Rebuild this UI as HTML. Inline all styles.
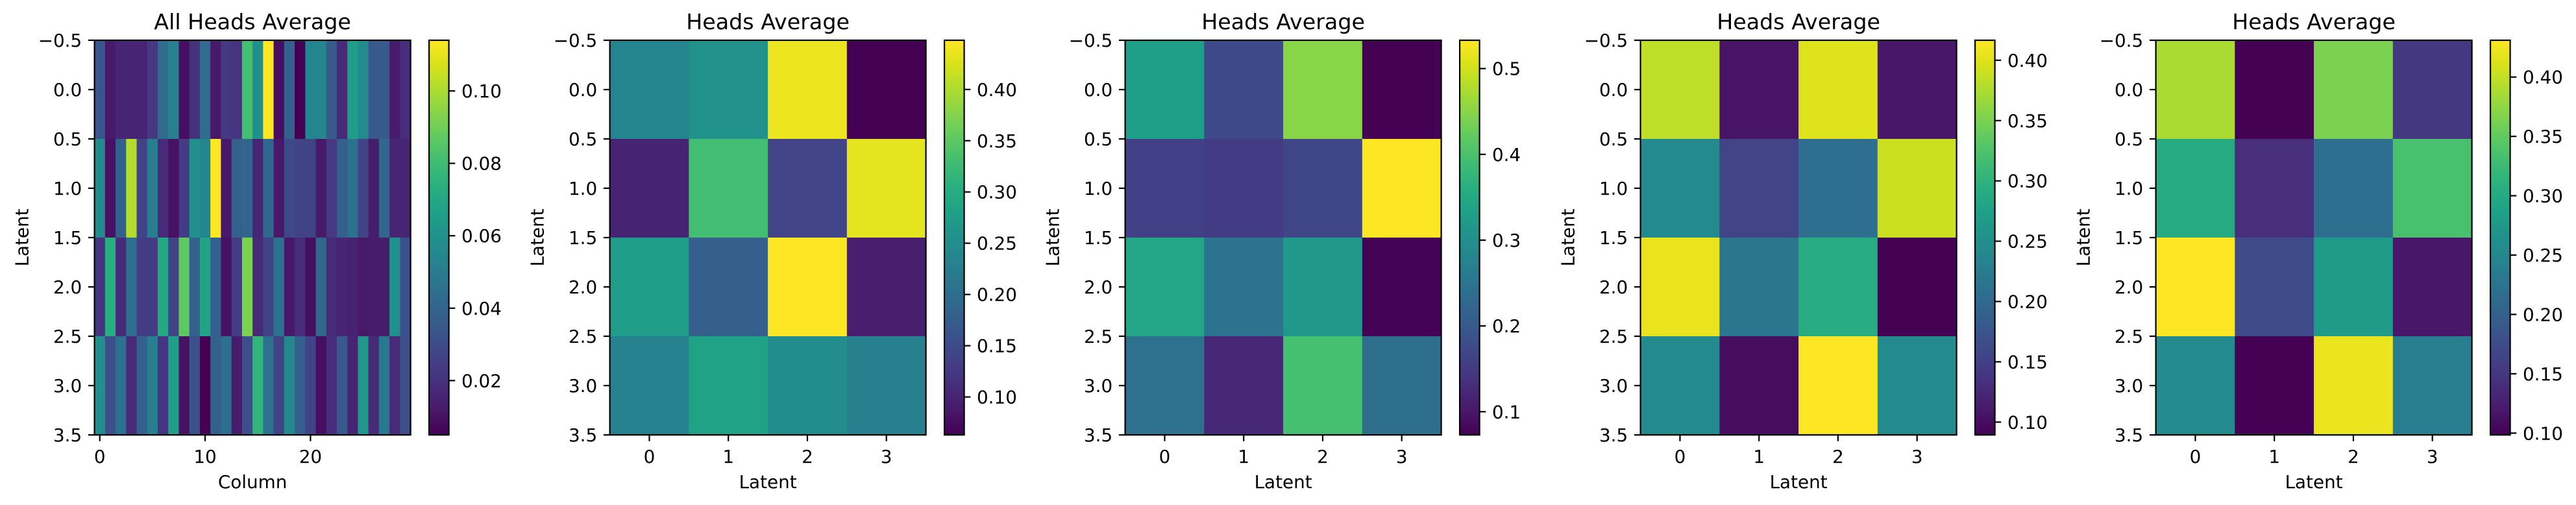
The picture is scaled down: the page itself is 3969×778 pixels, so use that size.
<!DOCTYPE html>
<html><head><meta charset="utf-8">
<style>
html,body{margin:0;padding:0;background:#fff;}
svg{display:block;font-family:"DejaVu Sans","Liberation Sans",sans-serif;}
</style></head>
<body>
<svg id="chart" width="3969" height="778" viewBox="0 0 3969 778" xmlns="http://www.w3.org/2000/svg">
<defs>
<linearGradient id="viridis" x1="0" y1="1" x2="0" y2="0"></linearGradient>
</defs>
</svg>
<script>
// ---- data ----
const titles = ["All Heads Average","Heads Average","Heads Average","Heads Average","Heads Average"];
const xLabels = ["Column","Latent","Latent","Latent","Latent"];
const yTickLabels = ["−0.5","0.0","0.5","1.0","1.5","2.0","2.5","3.0","3.5"];
const yTickValues = [-0.5,0,0.5,1,1.5,2,2.5,3,3.5];
const xTicksWide = [0,10,20];
const xTicksNarrow = [0,1,2,3];

const allHeadsRow0 = [0.034,0.012,0.016,0.016,0.016,0.023,0.043,0.052,0.009,0.020,0.043,0.012,0.023,0.021,0.081,0.059,0.114,0.009,0.038,0.005,0.054,0.054,0.035,0.018,0.065,0.057,0.035,0.035,0.013,0.019];
const allHeadsRow1 = [0.057,0.010,0.038,0.101,0.027,0.051,0.018,0.010,0.024,0.059,0.054,0.114,0.012,0.038,0.040,0.016,0.041,0.012,0.029,0.027,0.027,0.012,0.023,0.038,0.046,0.027,0.013,0.041,0.016,0.016];
const allHeadsRow2 = [0.021,0.073,0.018,0.044,0.024,0.024,0.070,0.027,0.087,0.038,0.068,0.038,0.010,0.024,0.092,0.018,0.027,0.046,0.012,0.019,0.009,0.041,0.018,0.016,0.015,0.012,0.013,0.013,0.059,0.032];
const allHeadsRow3 = [0.059,0.031,0.046,0.018,0.038,0.051,0.021,0.066,0.010,0.032,0.005,0.038,0.044,0.013,0.031,0.076,0.046,0.027,0.056,0.038,0.027,0.009,0.019,0.035,0.016,0.062,0.018,0.049,0.018,0.031];

const head1 = [[0.237,0.255,0.437,0.063],[0.100,0.330,0.140,0.433],[0.275,0.178,0.448,0.094],[0.232,0.283,0.248,0.229]];
const head2 = [[0.330,0.174,0.450,0.073],[0.160,0.151,0.170,0.533],[0.344,0.248,0.317,0.075],[0.243,0.124,0.395,0.239]];
const head3 = [[0.384,0.106,0.400,0.109],[0.243,0.155,0.207,0.390],[0.406,0.217,0.292,0.0894],[0.243,0.099,0.4166,0.243]];
const head4 = [[0.388,0.0985,0.364,0.152],[0.301,0.142,0.218,0.334],[0.431,0.175,0.278,0.118],[0.255,0.0985,0.421,0.238]];

const cbTicks0 = [0.02,0.04,0.06,0.08,0.10];
const cbTicks1 = [0.10,0.15,0.20,0.25,0.30,0.35,0.40];
const cbTicks2 = [0.1,0.2,0.3,0.4,0.5];
const cbTicks3 = [0.10,0.15,0.20,0.25,0.30,0.35,0.40];
const cbTicks4 = [0.10,0.15,0.20,0.25,0.30,0.35,0.40];
const cbDecimals = [2,2,1,2,2];

const matrices = [[allHeadsRow0,allHeadsRow1,allHeadsRow2,allHeadsRow3], head1, head2, head3, head4];
const cbTicks = [cbTicks0,cbTicks1,cbTicks2,cbTicks3,cbTicks4];

// ---- viridis ----
const VIR = ["#440154","#48186a","#472d7b","#424086","#3b528b","#33638d","#2c728e","#26828e","#21918c","#1fa088","#28ae80","#3fbc73","#5ec962","#84d44b","#addc30","#d8e219","#fde725"];
function hex2rgb(h){return [parseInt(h.substr(1,2),16),parseInt(h.substr(3,2),16),parseInt(h.substr(5,2),16)];}
function viridis(t){
  t=Math.max(0,Math.min(1,t));
  const p=t*(VIR.length-1), i=Math.min(Math.floor(p),VIR.length-2), f=p-i;
  const a=hex2rgb(VIR[i]), b=hex2rgb(VIR[i+1]);
  return "rgb("+a.map((v,k)=>Math.round(v+(b[k]-v)*f)).join(",")+")";
}
const NS="http://www.w3.org/2000/svg";
const svg=document.getElementById("chart");
const grad=document.getElementById("viridis");
VIR.forEach((c,i)=>{const s=document.createElementNS(NS,"stop");s.setAttribute("offset",(i/(VIR.length-1)));s.setAttribute("stop-color",c);grad.appendChild(s);});

function mk(tag,attrs,parent){const e=document.createElementNS(NS,tag);for(const k in attrs)e.setAttribute(k,attrs[k]);(parent||svg).appendChild(e);return e;}

const AX_LEFT0=145.6, PANEL_DX=794, AX_W=487, AX_TOP=62, AX_H=608;
const CB_OFF=515.5, CB_W=30.5, TICK=9.7, LW=2.2, FS=27.8;

matrices.forEach((M,p)=>{
  const g=mk("g",{});
  
  
  const L=AX_LEFT0+PANEL_DX*p, nR=M.length, nC=M[0].length;
  let vmin=Infinity,vmax=-Infinity;
  M.forEach(r=>r.forEach(v=>{vmin=Math.min(vmin,v);vmax=Math.max(vmax,v);}));
  const xs=c=>L+(c+0.5)*AX_W/nC;           // data x -> px (cell center index)
  const ys=y=>AX_TOP+(y+0.5)*AX_H/nR;      // data y -> px
  // cells
  M.forEach((row,r)=>row.forEach((v,c)=>{
    const rc=mk("rect",{x:xs(c-0.5),y:ys(r-0.5),width:AX_W/nC+0.6,height:AX_H/nR+0.6,fill:viridis((v-vmin)/(vmax-vmin))},g);
    
    
  }));
  const fr=mk("rect",{x:L,y:AX_TOP,width:AX_W,height:AX_H,fill:"none",stroke:"#000","stroke-width":LW},g);
  
  
  // title
  const t=mk("text",{x:L+AX_W/2,y:45,"font-size":33.3,"text-anchor":"middle"},g);t.textContent=titles[p];
  
  
  // y ticks
  yTickValues.forEach((yv,i)=>{
    const y=AX_TOP+(yv+0.5)*AX_H/4;
    mk("line",{x1:L-TICK,x2:L,y1:y,y2:y,stroke:"#000","stroke-width":LW},g);
    const tx=mk("text",{x:L-TICK-9.7,y:y+10,"font-size":FS,"text-anchor":"end"},g);tx.textContent=yTickLabels[i];
    
    
  });
  const yl=mk("text",{x:0,y:0,"font-size":FS,"text-anchor":"middle",transform:"translate("+(L-102)+","+(AX_TOP+AX_H/2)+") rotate(-90)"},g);yl.textContent="Latent";
  
  
  // x ticks
  const xt = p===0?xTicksWide:xTicksNarrow;
  xt.forEach(v=>{
    const x=xs(v);
    mk("line",{x1:x,x2:x,y1:AX_TOP+AX_H,y2:AX_TOP+AX_H+TICK,stroke:"#000","stroke-width":LW},g);
    const tx=mk("text",{x:x,y:713,"font-size":FS,"text-anchor":"middle"},g);tx.textContent=String(v);
    
    
  });
  const xl=mk("text",{x:L+AX_W/2,y:752,"font-size":FS,"text-anchor":"middle"},g);xl.textContent=xLabels[p];
  
  
  // colorbar
  const CL=L+CB_OFF;
  const cb=mk("rect",{x:CL,y:AX_TOP,width:CB_W,height:AX_H,fill:"url(#viridis)",stroke:"#000","stroke-width":LW},g);
  
  
  cbTicks[p].forEach(v=>{
    const y=AX_TOP+AX_H-(v-vmin)/(vmax-vmin)*AX_H;
    if(y<AX_TOP-1||y>AX_TOP+AX_H+1)return;
    mk("line",{x1:CL+CB_W,x2:CL+CB_W+TICK,y1:y,y2:y,stroke:"#000","stroke-width":LW},g);
    const tx=mk("text",{x:CL+CB_W+TICK+9.7,y:y+10,"font-size":FS},g);tx.textContent=v.toFixed(cbDecimals[p]);
    
    
  });
});
</script>
</body></html>
